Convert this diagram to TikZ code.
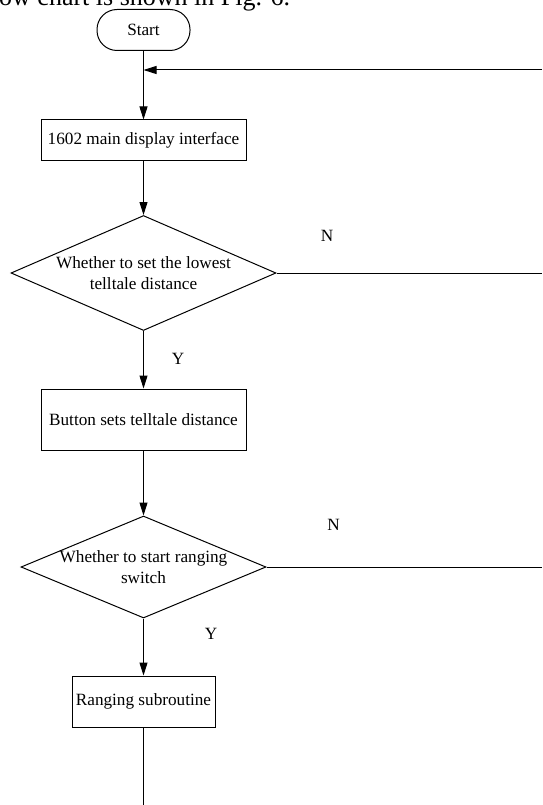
\documentclass[tikz,border=0pt]{standalone}
\usepackage{fontspec}
\setmainfont{Liberation Serif}
\usepackage{tikz}
\usetikzlibrary{shapes.geometric, arrows.meta, positioning}

\begin{document}
\begin{tikzpicture}[
  x=1pt, y=-1pt,
  font=\fontsize{17.2}{21}\selectfont,
  term/.style={rectangle, rounded corners=20pt, draw=black, line width=1pt,
               minimum width=93pt, minimum height=41pt, inner sep=0pt},
  proc/.style={rectangle, draw=black, line width=1pt, inner sep=0pt,
               align=center},
  ask/.style={diamond, draw=black, line width=1pt, aspect=2.3,
              inner sep=-3pt, align=center},
  yn/.style={inner sep=0pt},
  farr/.style={-{Triangle[length=13pt, width=8pt]}, line width=1pt},
  fline/.style={line width=1pt}
]
\useasboundingbox (0,0) rectangle (542,805);

% ── leftover line of the page text, cut off at the top ───────────────────
\node[anchor=base west, inner sep=0pt, font=\fontsize{26}{30}\selectfont]
      (pagetxt) at (-1, 6) {ow chart is shown in Fig. 6.};

% ── main column ──────────────────────────────────────────────────────────
\node[term] (start) at (143.5, 30)  {Start};
\node[proc, minimum width=205pt, minimum height=41pt] (disp) at (143.5, 140.5)
      {1602 main display interface};
\node[ask, minimum width=265pt, minimum height=115pt] (ask1) at (143.5, 273)
      {Whether to set the lowest\\telltale distance};
\node[proc, minimum width=205pt, minimum height=61pt] (setd) at (143.5, 419.5)
      {Button sets telltale distance};
\node[ask, minimum width=245pt, minimum height=102pt] (ask2) at (143.5, 567)
      {Whether to start ranging\\switch};
\node[proc, minimum width=143pt, minimum height=51pt] (range) at (143.5, 701.5)
      {Ranging subroutine};

% ── free ends at the page edges ──────────────────────────────────────────
\coordinate (merge) at (143.5, 70);
\coordinate (back)  at (542, 70);
\coordinate (out1)  at (542, 273);
\coordinate (out2)  at (542, 567);
\coordinate (down)  at (143.5, 805);

% ── Y / N labels ─────────────────────────────────────────────────────────
\node[yn] (n1) at (327, 236)   {N};
\node[yn] (y1) at (178, 359)   {Y};
\node[yn] (n2) at (333.5, 525) {N};
\node[yn] (y2) at (211, 634)   {Y};

% ── arrows down the column ───────────────────────────────────────────────
\draw[farr] (start.south) -- (disp.north);
\draw[farr] (back)        -- (merge);
\draw[farr] (disp.south)  -- (ask1.north);
\draw[farr] (ask1.south)  -- (setd.north);
\draw[farr] (setd.south)  -- (ask2.north);
\draw[farr] (ask2.south)  -- (range.north);
\draw[fline] (range.south) -- (down);

% ── N branches leave to the right ────────────────────────────────────────
\draw[fline] (ask1.east) -- (out1);
\draw[fline] (ask2.east) -- (out2);

\end{tikzpicture}
\end{document}
